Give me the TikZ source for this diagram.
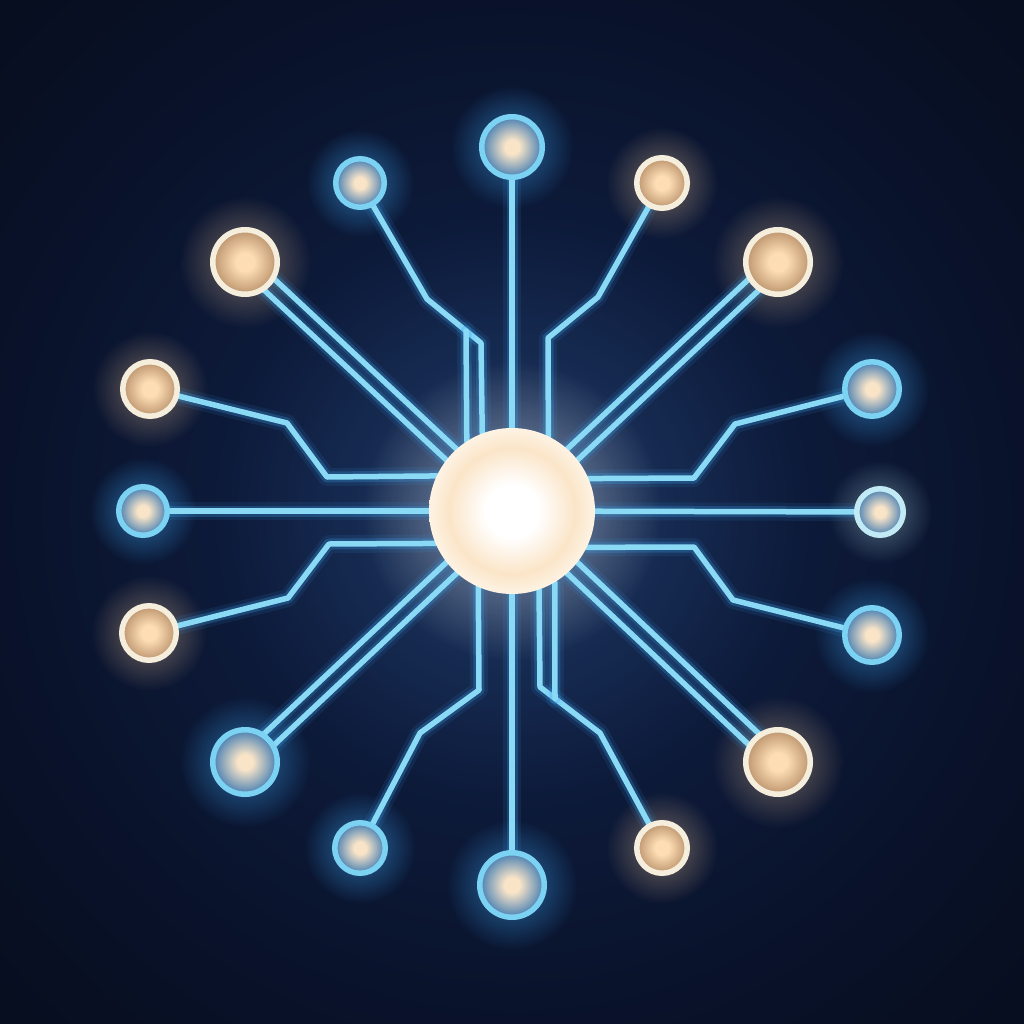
\documentclass[tikz,border=0pt]{standalone}
\usetikzlibrary{calc,fadings}
\pgfdeclarelayer{bg}
\pgfdeclarelayer{lines}
\pgfsetlayers{bg,lines,main}
\definecolor{bgA}{HTML}{15294E}
\definecolor{bgB}{HTML}{0E1D3F}
\definecolor{bgC}{HTML}{09122A}
\definecolor{bgD}{HTML}{04070E}
\definecolor{linec}{HTML}{8ADAF6}
\definecolor{glowc}{HTML}{3AA2EE}
\definecolor{ringB}{HTML}{7CD2F2}
\definecolor{ringC}{HTML}{F6EEDD}
\definecolor{ringP}{HTML}{C2EAF5}
\definecolor{cIn}{HTML}{FDDDB4}
\definecolor{cOut}{HTML}{BC946E}
\definecolor{bIn}{HTML}{F9E4C8}
\definecolor{bOut}{HTML}{477FB2}
\definecolor{glowW}{HTML}{DDB890}
\definecolor{coreM}{HTML}{FBE5C8}
\definecolor{coreR}{HTML}{FDF3E4}
\definecolor{haloB}{HTML}{34598E}
\pgfdeclareradialshading{bgshade}{\pgfpoint{0bp}{0bp}}{color(0bp)=(bgA); color(10bp)=(bgB); color(25bp)=(bgC); color(50bp)=(bgD)}
\pgfdeclareradialshading{creamfill}{\pgfpoint{0bp}{0bp}}{color(0bp)=(cIn); color(7bp)=(cIn); color(25bp)=(cOut); color(50bp)=(cOut)}
\pgfdeclareradialshading{bluefill}{\pgfpoint{0bp}{0bp}}{color(0bp)=(bIn); color(6bp)=(bIn); color(25bp)=(bOut); color(50bp)=(bOut)}
\pgfdeclareradialshading{corefill}{\pgfpoint{0bp}{0bp}}{color(0bp)=(white); color(8bp)=(white); color(19bp)=(coreM); color(25bp)=(coreR); color(50bp)=(coreR)}
\tikzfading[name=glowfade, inner color=transparent!0, outer color=transparent!100]
\tikzset{
  basenode/.style={circle, inner sep=0pt, outer sep=0pt, line width=5.5pt, minimum size=#1},
  bnode/.style={basenode=#1, draw=ringB, shade, shading=bluefill},
  cnode/.style={basenode=#1, draw=ringC, shade, shading=creamfill},
  pnode/.style={basenode=#1, draw=ringP, shade, shading=bluefill},
  corenode/.style={circle, inner sep=0pt, outer sep=0pt, minimum size=166pt, shade, shading=corefill},
  wire/.style={draw=linec, line width=5.5pt, line join=round, line cap=round,
    preaction={draw=glowc, line width=18pt, draw opacity=0.10, line join=round, line cap=round},
    preaction={draw=glowc, line width=11pt, draw opacity=0.25, line join=round, line cap=round}},
  glowb/.style={fill=glowc, path fading=glowfade, fill opacity=0.6},
  glowy/.style={fill=glowW, path fading=glowfade, fill opacity=0.5}
}
\begin{document}
\begin{tikzpicture}[x=1pt,y=-1pt]
\useasboundingbox (0,0) rectangle (1024,1024);
% nodes
\node[corenode] (c) at (512,511) {};
\node[bnode=60.5pt] (nT) at (512,147) {};
\node[bnode=48.5pt] (nTL) at (360,183) {};
\node[cnode=50.5pt] (nTR) at (662,183) {};
\node[cnode=64.5pt] (nUL) at (245,262) {};
\node[cnode=64.5pt] (nUR) at (778,262) {};
\node[cnode=54.5pt] (nL1) at (150,389) {};
\node[bnode=54.5pt] (nR1) at (872,389) {};
\node[bnode=48.5pt] (nL) at (143,511) {};
\node[pnode=46.5pt] (nR) at (880,512) {};
\node[cnode=54.5pt] (nL2) at (149,633) {};
\node[bnode=54.5pt] (nR2) at (872,635) {};
\node[bnode=64.5pt] (nLL) at (245,762) {};
\node[cnode=64.5pt] (nLR) at (778,762) {};
\node[bnode=50.5pt] (nBL) at (360,848) {};
\node[cnode=50.5pt] (nBR) at (662,848) {};
\node[bnode=64.5pt] (nB) at (512,885) {};
% background and glows
\begin{pgfonlayer}{bg}
\shade[shading=bgshade] (0,0) rectangle (1024,1024);
\fill[fill=haloB, path fading=glowfade, fill opacity=0.4] (c) circle (300pt);
\fill[fill=white, path fading=glowfade, fill opacity=0.5] (c) circle (150pt);
\foreach \n/\r in {nT/62,nTL/54,nR1/58,nL/54,nR2/58,nLL/66,nBL/56,nB/66}
  \fill[glowb] (\n) circle (\r pt);
\foreach \n/\r in {nTR/56,nUL/66,nUR/66,nL1/58,nL2/58,nLR/66,nBR/56}
  \fill[glowy] (\n) circle (\r pt);
\fill[fill=ringP, path fading=glowfade, fill opacity=0.4] (nR) circle (52pt);
\end{pgfonlayer}
% connectors
\begin{pgfonlayer}{lines}
\draw[wire] (nT) -- (c);
\draw[wire] (nB) -- (c);
\draw[wire] (nL) -- (c);
\draw[wire] (nR) -- (c);
\draw[wire] (nTL) -- (427,299) -- (481,343) -- (c.111.9);
\draw[wire] (466,331) -- (c.123.6);
\draw[wire] (nTR) -- (598,297) -- (548,338) -- (c.64.3);
\draw[wire] (nL1) -- (287,423) -- (327,477) -- (c.155.8);
\draw[wire] (nR1) -- (735,424) -- (694,478) -- (c.23.4);
\draw[wire] (nL2) -- (288,598) -- (329,544) -- (c.203.4);
\draw[wire] (nR2) -- (733,600) -- (694,547) -- (c.334.3);
\draw[wire] (nBL) -- (420,733) -- (479,690) -- (c.246.6);
\draw[wire] (nBR) -- (600,733) -- (540,687) -- (c.289.7);
\draw[wire] (555,698.5) -- (c.301.2);
\foreach \n in {nUL,nUR,nLL,nLR}{
  \draw[wire] ($(\n)!7.5pt!90:(c)$) -- ($(c)!7.5pt!-90:(\n)$);
  \draw[wire] ($(\n)!7.5pt!-90:(c)$) -- ($(c)!7.5pt!90:(\n)$);
}
\end{pgfonlayer}
\end{tikzpicture}
\end{document}
